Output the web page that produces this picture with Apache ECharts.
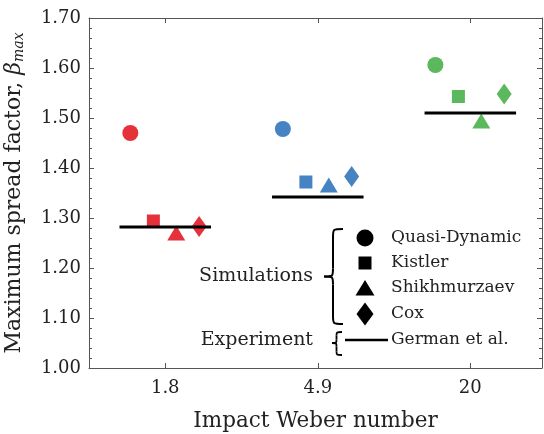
<!DOCTYPE html>
<html>
<head>
<meta charset="utf-8">
<script src="https://cdn.jsdelivr.net/npm/echarts@6/dist/echarts.min.js"></script>
<style>html,body{margin:0;padding:0;background:#fff}#c{width:544px;height:434px}</style>
</head>
<body>
<div id="c"></div>
<script>
const categories = ['1.8', '4.9', '20'];
const quasiDynamic = [1.470, 1.478, 1.606];
const kistler = [1.294, 1.372, 1.543];
const shikhmurzaev = [1.270, 1.366, 1.494];
const cox = [1.283, 1.383, 1.548];
const german = [1.282, 1.342, 1.510];
const groupColors = ['#e5323a', '#4683c3', '#5cb85c'];
const yTicks = [1.0, 1.1, 1.2, 1.3, 1.4, 1.5, 1.6, 1.7];

const FONT = 'DejaVu Serif';
const offsets = [-0.229, -0.078, 0.072, 0.222];
const halfLine = 0.3;

function pts(vals, k) {
  return vals.map((v, i) => ({ value: [i + offsets[k], v], itemStyle: { color: groupColors[i], opacity: 1 } }));
}

// left-pointing curly brace built from bezier curves and lines
function brace(xr, xs, xt, y0, ym, y1, r, lw) {
  const st = { stroke: '#000', lineWidth: lw, fill: null };
  return [
    { type: 'bezierCurve', shape: { x1: xr, y1: y0, cpx1: xs, cpy1: y0, cpx2: xs, cpy2: y0, x2: xs, y2: y0 + r }, style: st },
    { type: 'line', shape: { x1: xs, y1: y0 + r, x2: xs, y2: ym - r }, style: st },
    { type: 'bezierCurve', shape: { x1: xs, y1: ym - r, cpx1: xs, cpy1: ym, cpx2: xs, cpy2: ym, x2: xt, y2: ym }, style: st },
    { type: 'bezierCurve', shape: { x1: xt, y1: ym, cpx1: xs, cpy1: ym, cpx2: xs, cpy2: ym, x2: xs, y2: ym + r }, style: st },
    { type: 'line', shape: { x1: xs, y1: ym + r, x2: xs, y2: y1 - r }, style: st },
    { type: 'bezierCurve', shape: { x1: xs, y1: y1 - r, cpx1: xs, cpy1: y1, cpx2: xs, cpy2: y1, x2: xr, y2: y1 }, style: st }
  ];
}

const chart = echarts.init(document.getElementById('c'), null, { renderer: 'canvas' });

const axisLineStyle = { color: '#555', width: 1 };
const series = [
  { name: 'Quasi-Dynamic', type: 'scatter', symbol: 'circle', symbolSize: 16, data: pts(quasiDynamic, 0), z: 2 },
  { name: 'Kistler', type: 'scatter', symbol: 'rect', symbolSize: 13, data: pts(kistler, 1), z: 2 },
  { name: 'Shikhmurzaev', type: 'scatter', symbol: 'triangle', symbolSize: [18, 15], data: pts(shikhmurzaev, 2), z: 2 },
  { name: 'Cox', type: 'scatter', symbol: 'diamond', symbolSize: [15, 21], data: pts(cox, 3), z: 2 }
];
german.forEach((g, i) => {
  series.push({
    name: 'German et al.', type: 'line', symbol: 'none', silent: true, z: 3,
    lineStyle: { color: '#000', width: 3 },
    data: [[i - halfLine, g], [i + halfLine, g]]
  });
});

const legendY = [238, 263, 288, 314];
const legendNames = ['Quasi-Dynamic', 'Kistler', 'Shikhmurzaev', 'Cox'];
const gx = 365;
const txtFont = '17px "' + FONT + '"';
const bigFont = '19px "' + FONT + '"';
let graphics = [
  { type: 'circle', shape: { cx: gx, cy: legendY[0], r: 8.5 }, style: { fill: '#000' } },
  { type: 'rect', shape: { x: gx - 6.5, y: legendY[1] - 6.5, width: 13, height: 13 }, style: { fill: '#000' } },
  { type: 'polygon', shape: { points: [[gx, legendY[2] - 8], [gx + 9.5, legendY[2] + 7.5], [gx - 9.5, legendY[2] + 7.5]] }, style: { fill: '#000' } },
  { type: 'polygon', shape: { points: [[gx, legendY[3] - 11.5], [gx + 8.5, legendY[3]], [gx, legendY[3] + 11.5], [gx - 8.5, legendY[3]]] }, style: { fill: '#000' } },
  { type: 'line', shape: { x1: 345, y1: 340, x2: 388, y2: 340 }, style: { stroke: '#000', lineWidth: 2.5 } },
  { type: 'text', x: 313, y: 276, style: { text: 'Simulations', font: bigFont, fill: '#222', align: 'right', verticalAlign: 'middle' } },
  { type: 'text', x: 313, y: 340, style: { text: 'Experiment', font: bigFont, fill: '#222', align: 'right', verticalAlign: 'middle' } },
  { type: 'text', x: 391, y: 340, style: { text: 'German et al.', font: txtFont, fill: '#222', align: 'left', verticalAlign: 'middle' } }
];
graphics = graphics.concat(brace(343, 333, 324, 229, 276.5, 324, 8, 2));
graphics = graphics.concat(brace(342, 336.5, 332, 332, 343, 355, 3.5, 1.8));
legendNames.forEach((n, k) => {
  graphics.push({ type: 'text', x: 391, y: legendY[k], style: { text: n, font: txtFont, fill: '#222', align: 'left', verticalAlign: 'middle' } });
});

chart.setOption({
  animation: false,
  backgroundColor: '#fff',
  textStyle: { fontFamily: FONT },
  grid: { left: 89, right: 2, top: 18, bottom: 66, show: false, containLabel: false, outerBoundsMode: 'none' },
  xAxis: [
    {
      type: 'value', min: -0.5, max: 2.47, position: 'bottom',
      axisLine: { show: true, onZero: false, lineStyle: axisLineStyle },
      axisTick: { show: true, inside: true, length: 5, customValues: [0, 1, 2], lineStyle: axisLineStyle },
      axisLabel: { customValues: [0, 1, 2], formatter: v => categories[Math.round(v)], fontFamily: FONT, fontSize: 18, color: '#222', margin: 11 },
      splitLine: { show: false },
      name: 'Impact Weber number', nameLocation: 'middle', nameGap: 42,
      nameTextStyle: { fontFamily: FONT, fontSize: 21.5, color: '#222' }
    },
    {
      type: 'value', min: -0.5, max: 2.47, position: 'top',
      axisLine: { show: true, onZero: false, lineStyle: axisLineStyle },
      axisTick: { show: true, inside: true, length: 5, customValues: [0, 1, 2], lineStyle: axisLineStyle },
      axisLabel: { show: false }, splitLine: { show: false }
    }
  ],
  yAxis: [
    {
      type: 'value', position: 'left', min: yTicks[0], max: yTicks[yTicks.length - 1], interval: 0.1,
      axisLine: { show: true, onZero: false, lineStyle: axisLineStyle },
      axisTick: { show: true, inside: true, length: 5, lineStyle: axisLineStyle },
      minorTick: { show: true, splitNumber: 5, length: 3, lineStyle: axisLineStyle },
      axisLabel: { formatter: v => v.toFixed(2), fontFamily: FONT, fontSize: 18, color: '#222', margin: 8 },
      splitLine: { show: false },
      name: '{n|Maximum spread factor, }{b|β}{s|max}', nameLocation: 'middle', nameGap: 63, nameRotate: 90,
      nameTextStyle: {
        rich: {
          n: { fontFamily: FONT, fontSize: 22, color: '#222' },
          b: { fontFamily: FONT, fontSize: 22, fontStyle: 'italic', color: '#222' },
          s: { fontFamily: FONT, fontSize: 14, fontStyle: 'italic', color: '#222', verticalAlign: 'bottom', padding: [9, 0, 0, 0] }
        }
      }
    },
    {
      type: 'value', position: 'right', min: yTicks[0], max: yTicks[yTicks.length - 1], interval: 0.1,
      axisLine: { show: true, onZero: false, lineStyle: axisLineStyle },
      axisTick: { show: true, inside: true, length: 5, lineStyle: axisLineStyle },
      minorTick: { show: true, splitNumber: 5, length: 3, lineStyle: axisLineStyle },
      axisLabel: { show: false }, splitLine: { show: false }
    }
  ],
  series: series,
  graphic: graphics
});
</script>
</body>
</html>
